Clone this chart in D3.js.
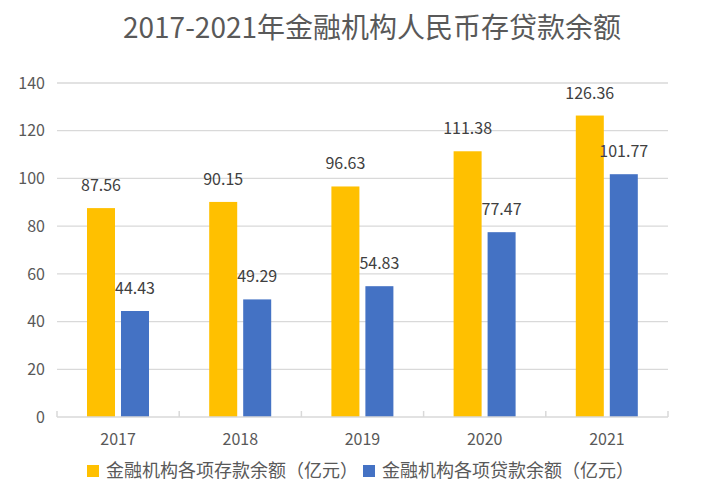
<!DOCTYPE html>
<html><head><meta charset="utf-8">
<script src="https://cdn.jsdelivr.net/npm/d3@7/dist/d3.min.js"></script>
<style>
html,body{margin:0;padding:0;background:#fff;}
svg{display:block;font-family:"Noto Sans CJK SC","Noto Sans",sans-serif;}
</style></head>
<body>
<svg id="chart" width="706" height="491"></svg>
<script>
const title = "2017-2021年金融机构人民币存贷款余额";
const years = ["2017","2018","2019","2020","2021"];
const seriesNames = ["金融机构各项存款余额（亿元）","金融机构各项贷款余额（亿元）"];
const deposits = [87.56, 90.15, 96.63, 111.38, 126.36];
const loans = [44.43, 49.29, 54.83, 77.47, 101.77];
const yTicks = [0,20,40,60,80,100,120,140];
const colors = ["#FFC000","#4472C4"];

const svg = d3.select("#chart");
const L = 57, R = 668, T = 83, B = 417;

const x0 = d3.scaleBand().domain(years).range([L, R]).padding(0);
const x1 = d3.scaleBand().domain([0,1]).range([30, 92]).paddingInner(0.176).paddingOuter(0);
const y = d3.scaleLinear().domain([0,140]).range([B, T]);

// title
svg.append("text").attr("x", 372).attr("y", 38).attr("text-anchor","middle")
  .attr("font-size", 28).attr("fill","#595959").text(title);

// gridlines
svg.append("g").selectAll("line").data(yTicks.filter(d=>d>0)).join("line")
  .attr("x1", L).attr("x2", R).attr("y1", d=>y(d)).attr("y2", d=>y(d))
  .attr("stroke","#d9d9d9").attr("stroke-width",1.3);

// y axis labels
svg.append("g").selectAll("text").data(yTicks).join("text")
  .attr("x", 45).attr("y", d=>y(d)).attr("dy","0.36em").attr("text-anchor","end")
  .attr("font-size", 16).attr("fill","#595959").text(d=>d);

// bars
const data = years.map((yr,i)=>({yr, vals:[deposits[i], loans[i]]}));
const groups = svg.append("g").selectAll("g").data(data).join("g")
  .attr("transform", d=>`translate(${x0(d.yr)},0)`);
groups.selectAll("rect").data(d=>d.vals.map((v,k)=>({v,k}))).join("rect")
  .attr("x", d=>x1(d.k)).attr("width", x1.bandwidth())
  .attr("y", d=>y(d.v)).attr("height", d=>B - y(d.v))
  .attr("fill", d=>colors[d.k]);
groups.selectAll("text").data(d=>d.vals.map((v,k)=>({v,k}))).join("text")
  .attr("x", d=>x1(d.k)+x1.bandwidth()/2).attr("y", d=>y(d.v)-17)
  .attr("text-anchor","middle").attr("font-size",16).attr("fill","#404040")
  .text(d=>d.v.toFixed(2));

// x axis
svg.append("line").attr("x1",L).attr("x2",R).attr("y1",B).attr("y2",B)
  .attr("stroke","#d9d9d9").attr("stroke-width",1.5);
const bounds = years.map(d=>x0(d)).concat([R]);
svg.append("g").selectAll("line").data(bounds).join("line")
  .attr("x1",d=>d).attr("x2",d=>d).attr("y1",B-6).attr("y2",B)
  .attr("stroke","#d9d9d9").attr("stroke-width",1.5);
svg.append("g").selectAll("text").data(years).join("text")
  .attr("x", d=>x0(d)+x0.bandwidth()/2).attr("y", 445).attr("text-anchor","middle")
  .attr("font-size",16).attr("fill","#595959").text(d=>d);

// legend
const legX = [87, 363];
const leg = svg.append("g").selectAll("g").data(seriesNames).join("g")
  .attr("transform",(d,i)=>`translate(${legX[i]},465)`);
leg.append("rect").attr("width",12).attr("height",12).attr("fill",(d,i)=>colors[i]);
leg.append("text").attr("x",19).attr("y",6).attr("dy","0.36em")
  .attr("font-size",18).attr("fill","#595959").text(d=>d);
</script>
</body></html>
